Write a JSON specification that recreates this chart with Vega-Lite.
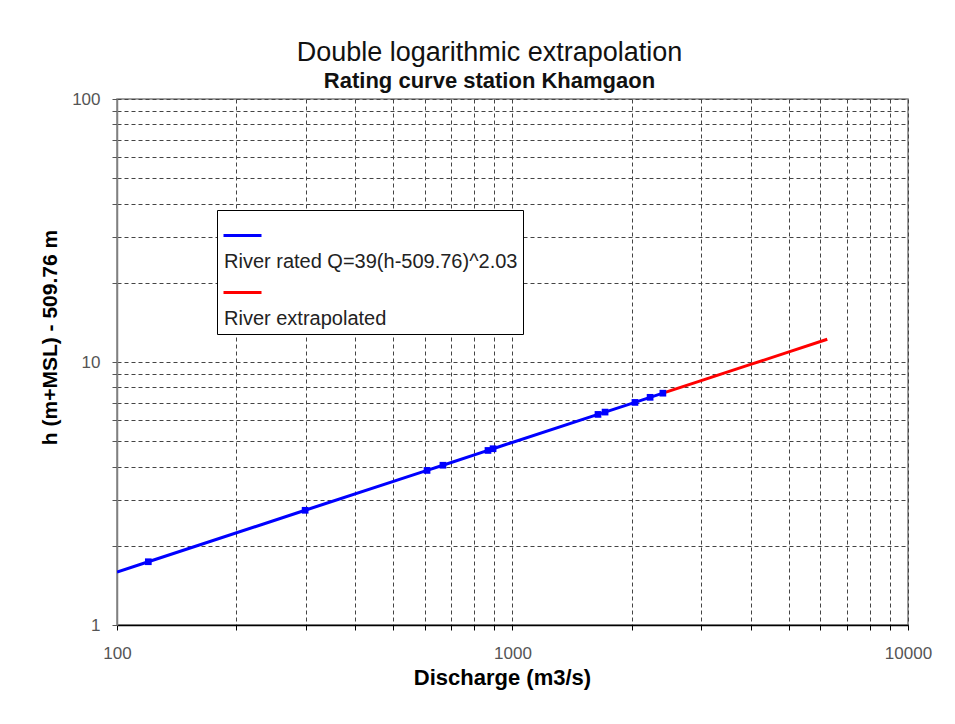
{
  "$schema": "https://vega.github.io/schema/vega-lite/v6.json",
  "width": 791,
  "height": 526,
  "autosize": {"type": "none"},
  "padding": {"left": 117, "top": 99, "right": 47, "bottom": 99},
  "background": "white",
  "title": {
    "text": "Double logarithmic extrapolation",
    "subtitle": "Rating curve station Khamgaon",
    "anchor": "middle",
    "dx": -23,
    "offset": -3,
    "font": "Liberation Sans",
    "fontSize": 27,
    "fontWeight": "normal",
    "color": "#111111",
    "subtitleFont": "Liberation Sans",
    "subtitleFontSize": 22,
    "subtitleFontWeight": "bold",
    "subtitleColor": "#111111",
    "subtitlePadding": 4
  },
  "datasets": {
    "curve": [
      {"Q": 100, "h": 1.59, "series": "River rated Q=39(h-509.76)^2.03"},
      {"Q": 120, "h": 1.74, "series": "River rated Q=39(h-509.76)^2.03"},
      {"Q": 299, "h": 2.73, "series": "River rated Q=39(h-509.76)^2.03"},
      {"Q": 608, "h": 3.87, "series": "River rated Q=39(h-509.76)^2.03"},
      {"Q": 667, "h": 4.05, "series": "River rated Q=39(h-509.76)^2.03"},
      {"Q": 867, "h": 4.61, "series": "River rated Q=39(h-509.76)^2.03"},
      {"Q": 893, "h": 4.68, "series": "River rated Q=39(h-509.76)^2.03"},
      {"Q": 1645, "h": 6.32, "series": "River rated Q=39(h-509.76)^2.03"},
      {"Q": 1714, "h": 6.45, "series": "River rated Q=39(h-509.76)^2.03"},
      {"Q": 2040, "h": 7.02, "series": "River rated Q=39(h-509.76)^2.03"},
      {"Q": 2228, "h": 7.34, "series": "River rated Q=39(h-509.76)^2.03"},
      {"Q": 2400, "h": 7.61, "series": "River rated Q=39(h-509.76)^2.03"},
      {"Q": 2400, "h": 7.61, "series": "River extrapolated"},
      {"Q": 3000, "h": 8.49, "series": "River extrapolated"},
      {"Q": 4000, "h": 9.79, "series": "River extrapolated"},
      {"Q": 5000, "h": 10.92, "series": "River extrapolated"},
      {"Q": 6250, "h": 12.2, "series": "River extrapolated"}
    ]
  },
  "data": {"name": "curve"},
  "layer": [
    {
      "mark": {"type": "line", "strokeWidth": 3, "clip": true},
      "encoding": {
        "x": {
          "field": "Q", "type": "quantitative",
          "scale": {"type": "log", "domain": [100, 10000], "nice": false},
          "axis": {
            "title": "Discharge (m3/s)",
            "values": [100,200,300,400,500,600,700,800,900,1000,2000,3000,4000,5000,6000,7000,8000,9000,10000],
            "labelExpr": "datum.value == 100 || datum.value == 1000 || datum.value == 10000 ? format(datum.value, 'd') : ''",
            "labelOverlap": false,
            "labelFlush": false,
            "labelBound": false,
            "domainColor": "#000000",
            "domainWidth": 1.5,
            "tickColor": "#000000",
            "tickSize": 5,
            "labelPadding": 15,
            "titleX": 385,
            "titleY": 59,
            "titleFontSize": 22,
            "titleBaseline": "alphabetic",
            "titleAnchor": null,
            "titleAlign": "center"
          }
        },
        "y": {
          "field": "h", "type": "quantitative",
          "scale": {"type": "log", "domain": [1, 100], "nice": false},
          "axis": {
            "title": "h (m+MSL) - 509.76 m",
            "values": [1,2,3,4,5,6,7,8,9,10,20,30,40,50,60,70,80,90,100],
            "labelExpr": "datum.value == 1 || datum.value == 10 || datum.value == 100 ? format(datum.value, 'd') : ''",
            "labelOverlap": false,
            "labelFlush": false,
            "labelBound": false,
            "domainColor": "#808080",
            "domainWidth": 1.5,
            "tickColor": "#555555",
            "tickSize": 5,
            "labelPadding": 12,
            "titleX": -67,
            "titleY": 238,
            "titleAngle": -90,
            "titleBaseline": "middle",
            "titleAnchor": null,
            "titleAlign": "center"
          }
        },
        "color": {
          "field": "series", "type": "nominal",
          "scale": {"domain": ["River rated Q=39(h-509.76)^2.03", "River extrapolated"], "range": ["#0000ff", "#ff0000"]},
          "legend": {
            "title": null,
            "orient": "none",
            "legendX": 100,
            "legendY": 111,
            "symbolType": "stroke",
            "symbolSize": 1444,
            "symbolStrokeWidth": 3,
            "labelExpr": "['', datum.label]",
            "labelBaseline": "top",
            "labelOffset": -39,
            "labelLimit": 400,
            "labelFont": "Liberation Sans",
            "labelFontSize": 20,
            "labelColor": "#222222",
            "fillColor": "white",
            "strokeColor": "#000000",
            "padding": 5,
            "rowPadding": 0,
            "encode": {
              "labels": {"update": {"lineHeight": {"value": 16}}}
            }
          }
        }
      }
    },
    {
      "transform": [{"filter": "datum.series == 'River rated Q=39(h-509.76)^2.03' && datum.Q > 100"}],
      "mark": {"type": "point", "shape": "square", "filled": true, "size": 45, "color": "#0000ff", "opacity": 1},
      "encoding": {
        "x": {"field": "Q", "type": "quantitative"},
        "y": {"field": "h", "type": "quantitative"}
      }
    }
  ],
  "config": {
    "font": "Liberation Sans",
    "view": {"stroke": "#808080", "strokeWidth": 1.5},
    "axis": {
      "grid": true,
      "gridColor": "#444444",
      "gridDash": [4, 3],
      "gridWidth": 1,
      "gridOpacity": 1,
      "labelFont": "Liberation Sans",
      "labelFontSize": 17,
      "labelColor": "#555555",
      "titleFont": "Liberation Sans",
      "titleFontSize": 21,
      "titleFontWeight": "bold",
      "titleColor": "#000000"
    }
  }
}
